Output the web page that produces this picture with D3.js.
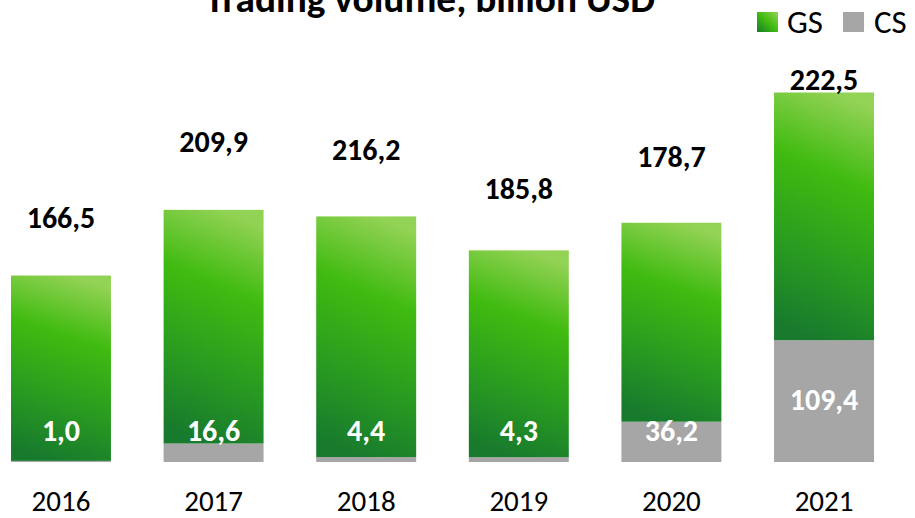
<!DOCTYPE html>
<html>
<head>
<meta charset="utf-8">
<script src="https://cdn.jsdelivr.net/npm/d3@7/dist/d3.min.js"></script>
<style>
  html, body { margin: 0; padding: 0; background: #fff; }
  svg { display: block; font-family: Carlito, Calibri, "Open Sans", sans-serif; }
</style>
</head>
<body>
<svg id="chart" width="915" height="518"></svg>
<script>
const years = ["2016", "2017", "2018", "2019", "2020", "2021"];
const gsValues = [166.5, 209.9, 216.2, 185.8, 178.7, 222.5];
const csValues = [1.0, 16.6, 4.4, 4.3, 36.2, 109.4];
const seriesNames = ["GS", "CS"];
const titleText = "Trading volume, billion USD";

const fmt = v => v.toFixed(1).replace(".", ",");
const FONT = 'Carlito, Calibri, "Open Sans", sans-serif';

const svg = d3.select("#chart");

const defs = svg.append("defs");
const grad = defs.append("linearGradient")
  .attr("id", "gsGrad")
  .attr("gradientUnits", "objectBoundingBox")
  .attr("x1", 0.41).attr("y1", 1).attr("x2", 0.59).attr("y2", 0);
[[0, "#187a2d"], [0.35, "#2a9e1f"], [0.68, "#40bb10"], [1, "#92d254"]]
  .forEach(([o, c]) => grad.append("stop").attr("offset", o).attr("stop-color", c));
const gradL = defs.append("linearGradient")
  .attr("id", "gsGradL")
  .attr("gradientUnits", "objectBoundingBox")
  .attr("x1", 0).attr("y1", 1).attr("x2", 1).attr("y2", 0);
[[0, "#187a2d"], [0.5, "#40bb10"], [1, "#92d254"]]
  .forEach(([o, c]) => gradL.append("stop").attr("offset", o).attr("stop-color", c));

const CS_COLOR = "#a6a6a6";

const data = years.map((y, i) => ({ year: y, gs: gsValues[i], cs: csValues[i] }));
const stack = d3.stack().keys(["cs", "gs"])(data);
const maxTotal = d3.max(data, d => d.gs + d.cs);

const x = d3.scaleBand().domain(years).range([11, 874]).paddingInner(0.345).paddingOuter(0);
const y = d3.scaleLinear().domain([0, 415]).range([462, 0]);
// label placement scale for the totals (as in the source chart)
const yLab = d3.scaleLinear().domain([0, 344.5]).range([443.7, 0]);

const colors = { cs: CS_COLOR, gs: "url(#gsGrad)" };

svg.append("g").selectAll("g")
  .data(stack).join("g")
  .attr("fill", d => colors[d.key])
  .selectAll("rect")
  .data(d => d).join("rect")
  .attr("x", d => x(d.data.year))
  .attr("width", x.bandwidth())
  .attr("y", d => y(d[1]))
  .attr("height", d => y(d[0]) - y(d[1]));

// x axis labels
const xAxis = d3.axisBottom(x).tickSize(0).tickPadding(0);
const gx = svg.append("g").attr("transform", `translate(0, 462)`).call(xAxis);
gx.select(".domain").remove();
gx.selectAll("text")
  .attr("y", 49).attr("dy", null)
  .attr("font-size", 29).attr("fill", "#000")
  .attr("font-family", FONT);

// GS labels above bars
svg.append("g").selectAll("text")
  .data(data).join("text")
  .attr("x", d => x(d.year) + x.bandwidth() / 2)
  .attr("y", d => Math.max(yLab(d.gs + d.cs), y(maxTotal) - 3))
  .attr("text-anchor", "middle")
  .attr("font-size", 30).attr("font-weight", "bold").attr("fill", "#000")
  .text(d => fmt(d.gs));

// CS labels
svg.append("g").selectAll("text")
  .data(data).join("text")
  .attr("x", d => x(d.year) + x.bandwidth() / 2)
  .attr("y", d => Math.min(441, y(d.cs / 2) + 9))
  .attr("text-anchor", "middle")
  .attr("font-size", 30).attr("font-weight", "bold").attr("fill", "#fff")
  .text(d => fmt(d.cs));

// title (fit to the reference width)
const title = svg.append("text")
  .attr("x", 430).attr("y", 12)
  .attr("text-anchor", "middle")
  .attr("font-size", 32).attr("font-weight", "bold").attr("fill", "#000")
  .text(titleText);
const tl = title.node().getComputedTextLength();
if (tl > 0) title.attr("font-size", 32 * 450 / tl);

// legend
const legend = svg.append("g");
const legItems = [
  { name: seriesNames[0], fill: "url(#gsGradL)", x: 757, tx: 787 },
  { name: seriesNames[1], fill: CS_COLOR, x: 843, tx: 874 }
];
legItems.forEach(it => {
  legend.append("rect").attr("x", it.x).attr("y", 12).attr("width", 21).attr("height", 20).attr("fill", it.fill);
  legend.append("text").attr("x", it.tx).attr("y", 33)
    .attr("font-size", 33).attr("fill", "#000").text(it.name);
});
</script>
</body>
</html>
